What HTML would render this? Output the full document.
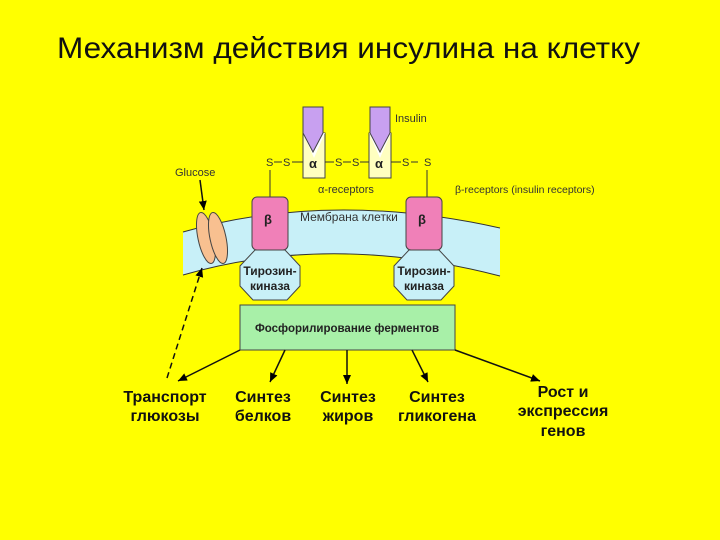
<!DOCTYPE html>
<html><head><meta charset="utf-8"><style>
html,body{margin:0;padding:0;background:#ffff00;}
svg{display:block;}
text{font-family:"Liberation Sans","DejaVu Sans",sans-serif;}
</style></head><body>
<svg width="720" height="540" viewBox="0 0 720 540" xmlns="http://www.w3.org/2000/svg">
<defs>
<marker id="ah" markerWidth="10" markerHeight="10" refX="9" refY="5" orient="auto" markerUnits="userSpaceOnUse">
<path d="M0,1 L9,5 L0,9 Z" fill="#000"/></marker>
</defs>
<rect width="720" height="540" fill="#ffff00"/>
<text x="57" y="58" font-size="30" fill="#111" textLength="583" lengthAdjust="spacingAndGlyphs">Механизм действия инсулина на клетку</text>

<!-- membrane band -->
<path d="M183,232 Q330,190 500,228 L500,276 Q330,232 183,275 Z" fill="#c8f0f8"/>
<path d="M183,232 Q330,190 500,228" fill="none" stroke="#333" stroke-width="1"/>
<path d="M500,276 Q330,232 183,275" fill="none" stroke="#333" stroke-width="1"/>
<path d="M183,248 Q330,215 500,250" fill="none" stroke="#fff" stroke-width="10" opacity="0"/>

<!-- insulin + alpha -->
<g stroke="#444" stroke-width="1">
<rect x="303" y="133" width="22" height="45" fill="#ffffc0"/>
<rect x="369" y="133" width="22" height="45" fill="#ffffc0"/>
<path d="M303,133 L314,158 L325,133" fill="#fff" stroke="none"/>
<path d="M369,133 L380,158 L391,133" fill="#fff" stroke="none"/>
<path d="M303,107 L323,107 L323,133 L313,152 L303,133 Z" fill="#c8a0f0"/>
<path d="M370,107 L390,107 L390,133 L380,152 L370,133 Z" fill="#c8a0f0"/>
</g>
<text x="395" y="122" font-size="11" fill="#333">Insulin</text>
<text x="309" y="168" font-size="13" font-weight="bold" fill="#222">α</text>
<text x="375" y="168" font-size="13" font-weight="bold" fill="#222">α</text>

<!-- S-S -->
<g font-size="11" fill="#333">
<text x="266" y="166">S</text><text x="283" y="166">S</text>
<text x="335" y="166">S</text><text x="352" y="166">S</text>
<text x="402" y="166">S</text><text x="424" y="166">S</text>
</g>
<g stroke="#333" stroke-width="1">
<line x1="274" y1="162" x2="282" y2="162"/><line x1="292" y1="162" x2="303" y2="162"/>
<line x1="325" y1="162" x2="334" y2="162"/><line x1="343" y1="162" x2="351" y2="162"/><line x1="360" y1="162" x2="369" y2="162"/>
<line x1="391" y1="162" x2="401" y2="162"/><line x1="411" y1="162" x2="418" y2="162"/>
<line x1="270" y1="170" x2="270" y2="197"/><line x1="427" y1="170" x2="427" y2="197"/>
</g>
<text x="318" y="193" font-size="11" fill="#333">α-receptors</text>
<text x="455" y="193" font-size="10.5" fill="#333">β-receptors (insulin receptors)</text>
<text x="300" y="221" font-size="12" fill="#333">Мембрана клетки</text>
<text x="175" y="176" font-size="11" fill="#333">Glucose</text>

<!-- beta boxes -->
<rect x="252" y="197" width="36" height="53" rx="5" fill="#f080b8" stroke="#444"/>
<rect x="406" y="197" width="36" height="53" rx="5" fill="#f080b8" stroke="#444"/>
<text x="264" y="224" font-size="13" font-weight="bold" fill="#222">β</text>
<text x="418" y="224" font-size="13" font-weight="bold" fill="#222">β</text>

<!-- kinase octagons -->
<path d="M255,250 L285,250 L300,266 L300,286 L287,300 L253,300 L240,286 L240,266 Z" fill="#c8f0f8" stroke="#444"/>
<path d="M409,250 L439,250 L454,266 L454,286 L441,300 L407,300 L394,286 L394,266 Z" fill="#c8f0f8" stroke="#444"/>
<g font-size="12" font-weight="bold" fill="#222" text-anchor="middle">
<text x="270" y="275">Тирозин-</text><text x="270" y="290">киназа</text>
<text x="424" y="275">Тирозин-</text><text x="424" y="290">киназа</text>
</g>

<!-- transporter -->
<ellipse cx="206" cy="238" rx="8" ry="26" transform="rotate(-12 206 238)" fill="#f8c090" stroke="#444"/>
<ellipse cx="218" cy="238" rx="8" ry="26" transform="rotate(-12 218 238)" fill="#f8c090" stroke="#444"/>
<line x1="200" y1="180" x2="204" y2="210" stroke="#111" stroke-width="1.5" marker-end="url(#ah)"/>
<line x1="167" y1="378" x2="202" y2="268" stroke="#111" stroke-width="1.5" stroke-dasharray="6,4" marker-end="url(#ah)"/>

<!-- green box -->
<rect x="240" y="305" width="215" height="45" fill="#a8f0a8" stroke="#444"/>
<text x="347" y="332" font-size="11.5" font-weight="bold" fill="#222" text-anchor="middle">Фосфорилирование ферментов</text>

<g stroke="#111" stroke-width="1.5">
<line x1="240" y1="350" x2="178" y2="381" marker-end="url(#ah)"/>
<line x1="285" y1="350" x2="270" y2="382" marker-end="url(#ah)"/>
<line x1="347" y1="350" x2="347" y2="384" marker-end="url(#ah)"/>
<line x1="412" y1="350" x2="428" y2="382" marker-end="url(#ah)"/>
<line x1="455" y1="350" x2="540" y2="381" marker-end="url(#ah)"/>
</g>

<g font-size="16" font-weight="bold" fill="#111" text-anchor="middle">
<text x="165" y="402">Транспорт</text><text x="165" y="421">глюкозы</text>
<text x="263" y="402">Синтез</text><text x="263" y="421">белков</text>
<text x="348" y="402">Синтез</text><text x="348" y="421">жиров</text>
<text x="437" y="402">Синтез</text><text x="437" y="421">гликогена</text>
<text x="563" y="397">Рост и</text><text x="563" y="416">экспрессия</text><text x="563" y="436">генов</text>
</g>
</svg>
</body></html>
